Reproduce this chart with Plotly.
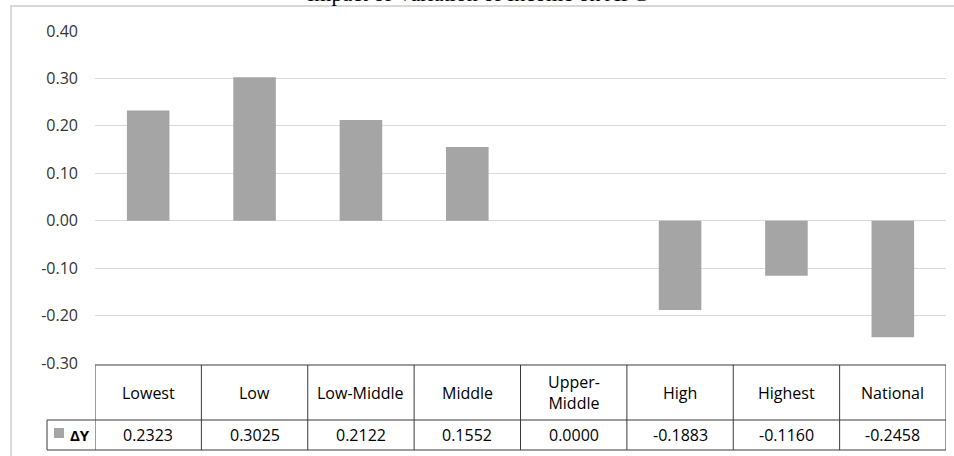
import plotly.graph_objects as go

categories = ["Lowest", "Low", "Low-Middle", "Middle", "Upper-<br>Middle", "High", "Highest", "National"]
delta_y = [0.2323, 0.3025, 0.2122, 0.1552, 0.0000, -0.1883, -0.1160, -0.2458]
series_name = "ΔY"
title_text = "Impact of Variation of Income on APC"
y_ticks = [0.40, 0.30, 0.20, 0.10, 0.00, -0.10, -0.20, -0.30]

BAR = "#a5a5a5"
GRID = "#d9d9d9"
TBL = "#3a3a3a"
FONT = "Open Sans"

# layout geometry (pixels)
W, H = 954, 456
L, R, T, B = 95, 8, 31, 93
PH = H - T - B
PW = W - L - R

def py(p):  # pixel y -> paper y
    return (H - B - p) / PH

def px(p):
    return (p - L) / PW

x_idx = list(range(len(categories)))

fig = go.Figure()
fig.add_trace(go.Bar(
    x=x_idx, y=delta_y, width=0.4,
    marker=dict(color=BAR, line=dict(width=0)),
    name=series_name, showlegend=False,
))

shapes = []
annotations = []

# outer chart border (left & top visible)
shapes.append(dict(type="rect", xref="paper", yref="paper",
                   x0=px(11), x1=1.3, y0=-0.5, y1=py(6),
                   line=dict(color=GRID, width=2), layer="below"))

# data table
y_top, y_mid, y_bot = py(365), py(420), py(450)
n = len(categories)
shapes.append(dict(type="line", xref="x", yref="paper", x0=-0.5, x1=n - 0.5, y0=y_top, y1=y_top,
                   line=dict(color=TBL, width=1)))
shapes.append(dict(type="line", xref="paper", yref="paper", x0=px(47), x1=1.0, y0=y_mid, y1=y_mid,
                   line=dict(color=TBL, width=1)))
shapes.append(dict(type="line", xref="paper", yref="paper", x0=px(47), x1=1.0, y0=y_bot, y1=y_bot,
                   line=dict(color=TBL, width=1)))
for k in range(n + 1):
    shapes.append(dict(type="line", xref="x", yref="paper", x0=k - 0.5, x1=k - 0.5, y0=y_top, y1=y_bot,
                       line=dict(color=TBL, width=1)))
shapes.append(dict(type="line", xref="paper", yref="paper", x0=px(47), x1=px(47), y0=y_mid, y1=y_bot,
                   line=dict(color=TBL, width=1)))
# legend key square
shapes.append(dict(type="rect", xref="paper", yref="paper", x0=px(54), x1=px(64), y0=py(438), y1=py(428),
                   fillcolor=BAR, line=dict(width=0)))

for i, (c, v) in enumerate(zip(categories, delta_y)):
    annotations.append(dict(x=i, y=(y_top + y_mid) / 2, xref="x", yref="paper", text=c,
                            showarrow=False, font=dict(family=FONT, size=16, color="#000"),
                            xanchor="center", yanchor="middle"))
    annotations.append(dict(x=i, y=(y_mid + y_bot) / 2, xref="x", yref="paper", text=f"{v:.4f}",
                            showarrow=False, font=dict(family=FONT, size=16, color="#000"),
                            xanchor="center", yanchor="middle"))
annotations.append(dict(x=px(68), y=(y_mid + y_bot) / 2, xref="paper", yref="paper", text="<b>" + series_name + "</b>",
                        showarrow=False, font=dict(family=FONT, size=15, color="#000"),
                        xanchor="left", yanchor="middle"))

# title (partly clipped at top, as in the reference)
annotations.append(dict(x=px(477), y=py(8), xref="paper", yref="paper", text=title_text,
                        showarrow=False, font=dict(family="Liberation Serif", size=22, color="#000"),
                        xanchor="center", yanchor="bottom"))

fig.update_layout(
    width=W, height=H,
    margin=dict(l=L, r=R, t=T, b=B, pad=0),
    paper_bgcolor="white", plot_bgcolor="white",
    shapes=shapes, annotations=annotations,
    showlegend=False,
    xaxis=dict(range=[-0.5, n - 0.5], showticklabels=False, showgrid=False, zeroline=False,
               showline=False, ticks=""),
    yaxis=dict(range=[-0.30, 0.40], tickvals=y_ticks, ticktext=[f"{t:.2f}" for t in y_ticks],
               showgrid=True, gridcolor=GRID, gridwidth=1,
               zeroline=True, zerolinecolor=GRID, zerolinewidth=1,
               showline=False, ticks="", ticklabelstandoff=16,
               tickfont=dict(family=FONT, size=16, color="#333333")),
)

fig.write_html("out.html", config={"displayModeBar": False},
               post_script="document.body.style.margin='0';document.body.style.padding='0';")
